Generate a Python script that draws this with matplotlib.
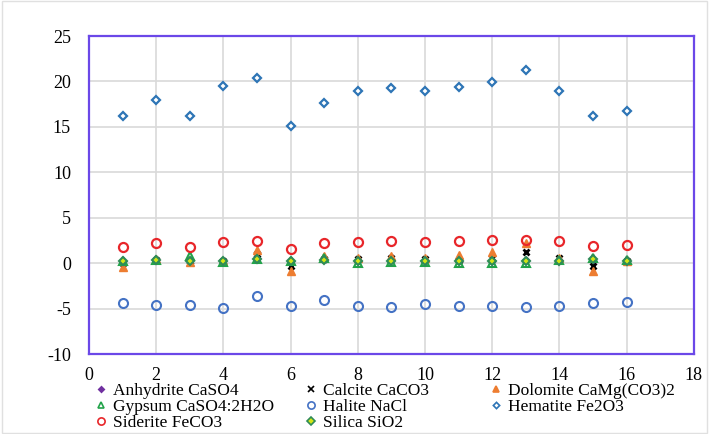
import matplotlib.pyplot as plt
from matplotlib.lines import Line2D

# saturation indices per sample
samples = list(range(1, 17))
anhydrite = [0.3, 0.4, 0.4, 0.2, 0.6, 0.2, 0.5, 0.3, 0.4, 0.3, 0.2, 0.3, 0.4, 0.4, 0.2, 0.3]
calcite = [0.0, 0.4, 0.2, 0.3, 1.0, -0.3, 0.5, 0.5, 0.6, 0.5, 0.4, 0.6, 1.2, 0.6, -0.3, 0.3]
dolomite = [-0.4, 0.5, 0.1, 0.2, 1.5, -0.8, 0.8, 0.6, 0.8, 0.6, 0.9, 1.2, 2.2, 0.6, -0.8, 0.3]
gypsum = [0.3, 0.4, 0.8, 0.1, 0.5, 0.3, 0.6, 0.0, 0.1, 0.1, 0.0, 0.0, 0.0, 0.4, 0.6, 0.4]
halite = [-4.4, -4.6, -4.6, -4.9, -3.6, -4.65, -4.0, -4.65, -4.8, -4.5, -4.65, -4.65, -4.85, -4.65, -4.35, -4.3]
hematite = [16.2, 18.0, 16.2, 19.5, 20.4, 15.1, 17.6, 19.0, 19.3, 19.0, 19.4, 19.9, 21.3, 19.0, 16.2, 16.7]
siderite = [1.75, 2.2, 1.8, 2.35, 2.5, 1.6, 2.2, 2.3, 2.45, 2.3, 2.45, 2.6, 2.6, 2.45, 1.9, 2.05]
silica = [0.3, 0.4, 0.3, 0.2, 0.5, 0.3, 0.4, 0.2, 0.3, 0.3, 0.3, 0.3, 0.3, 0.3, 0.5, 0.3]

xticks = list(range(0, 20, 2))
yticks = list(range(-10, 30, 5))

plt.rcParams['font.family'] = ['Liberation Serif', 'DejaVu Serif']
plt.rcParams['axes.unicode_minus'] = False

fig = plt.figure(figsize=(7.09, 4.34), dpi=100)
ax = fig.add_axes([0.1255, 0.184, 0.853, 0.733])

styles = [
    ('Anhydrite CaSO4', anhydrite, dict(marker='D', ms=3.5, mfc='#7030A0', mec='#7030A0')),
    ('Calcite CaCO3', calcite, dict(marker='x', ms=5, mec='black', mew=2)),
    ('Dolomite CaMg(CO3)2', dolomite, dict(marker='^', ms=5.5, mfc='#ED7D31', mec='#ED7D31')),
    ('Gypsum CaSO4:2H2O', gypsum, dict(marker='^', ms=6, mfc='none', mec='#22A34A', mew=1.5)),
    ('Halite NaCl', halite, dict(marker='o', ms=6.5, mfc='none', mec='#4472C4', mew=1.5)),
    ('Hematite Fe2O3', hematite, dict(marker='D', ms=4, mfc='white', mec='#2E75B6', mew=1.6)),
    ('Siderite FeCO3', siderite, dict(marker='o', ms=6.5, mfc='none', mec='#E8262A', mew=1.6)),
    ('Silica SiO2', silica, dict(marker='D', ms=4.5, mfc='#D4E616', mec='#2E8B57', mew=1.5)),
]

handles = {}
for label, vals, st in styles:
    line, = ax.plot(samples, vals, linestyle='none', label=label, **st)
    handles[label] = line

ax.set_xlim(0, 18)
ax.set_ylim(-10, 25)
ax.set_xticks(xticks)
ax.set_yticks(yticks)
ax.grid(True, color='#d9d9d9', linewidth=1.2)
ax.set_axisbelow(True)
ax.tick_params(length=0, labelsize=13)
ax.tick_params(axis='y', pad=13)
ax.tick_params(axis='x', pad=9)
for sp in ax.spines.values():
    sp.set_color('#6B48E8')
    sp.set_linewidth(1.6)

# three legend columns below the axes
columns = [
    (['Anhydrite CaSO4', 'Gypsum CaSO4:2H2O', 'Siderite FeCO3'], 0.135),
    (['Calcite CaCO3', 'Halite NaCl', 'Silica SiO2'], 0.431),
    (['Dolomite CaMg(CO3)2', 'Hematite Fe2O3'], 0.692),
]
for names, x in columns:
    hs = []
    for n in names:
        h = handles[n]
        hs.append(Line2D([], [], linestyle='none', marker=h.get_marker(),
                         ms=h.get_markersize() * 0.8, mfc=h.get_markerfacecolor(),
                         mec=h.get_markeredgecolor(), mew=1.2))
    fig.legend(hs, names, loc='upper left', bbox_to_anchor=(x, 0.118),
               frameon=False, fontsize=12.5, handlelength=0.6, handletextpad=0.4,
               labelspacing=0.0, borderaxespad=0, borderpad=0)

fig.patches.append(plt.Rectangle((0.003, 0.003), 0.994, 0.994, transform=fig.transFigure,
                                 fill=False, edgecolor='#e0e0e0', linewidth=1))

fig.savefig('out.png', dpi=100)
